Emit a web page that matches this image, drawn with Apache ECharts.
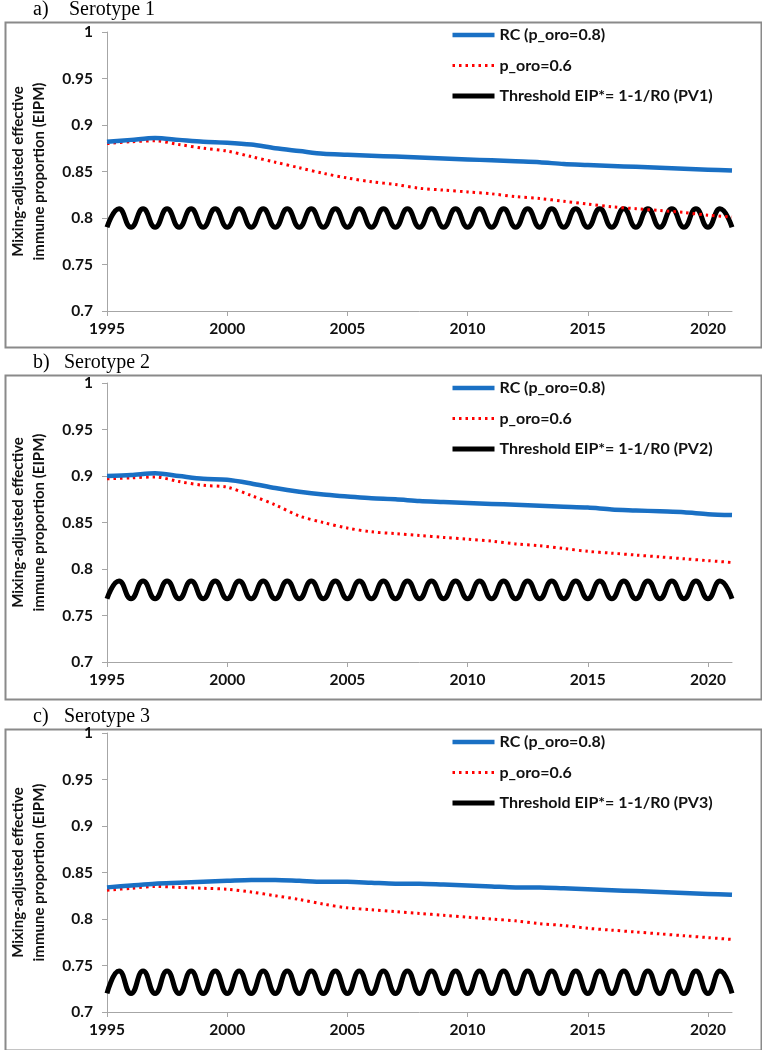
<!DOCTYPE html>
<html><head><meta charset="utf-8">
<script src="https://cdn.jsdelivr.net/npm/echarts@6/dist/echarts.min.js"></script>
<style>html,body{margin:0;padding:0;background:#fff}#c{width:762px;height:1050px}</style>
</head><body><div id="c"></div>
<script>
// ---- data ----
const years = [1995,1996,1997,1998,1999,2000,2001,2002,2003,2004,2005,2006,2007,2008,2009,2010,2011,2012,2013,2014,2015,2016,2017,2018,2019,2020,2021];
const halfYears = [1995,1995.5,1996,1996.5,1997,1997.5,1998,1998.5,1999,1999.5,2000,2000.5,2001,2001.5,2002,2002.5,2003,2003.5,2004,2004.5,2005,2005.5,2006,2006.5,2007,2007.5,2008,2008.5,2009,2009.5,2010,2010.5,2011,2011.5,2012,2012.5,2013,2013.5,2014,2014.5,2015,2015.5,2016,2016.5,2017,2017.5,2018,2018.5,2019,2019.5,2020,2020.5,2021];
const xTickLabels = [1995,2000,2005,2010,2015,2020];
const panelTitles = ['a)','b)','c)'];
const panelNames = ['Serotype 1','Serotype 2','Serotype 3'];
const rcName = 'RC (p_oro=0.8)';
const poName = 'p_oro=0.6';
const thrNames = ['Threshold EIP*= 1-1/R0 (PV1)','Threshold EIP*= 1-1/R0 (PV2)','Threshold EIP*= 1-1/R0 (PV3)'];
const yAxisName = 'Mixing-adjusted effective\nimmune proportion (EIPM)';

const rcA = [0.882,0.884,0.886,0.884,0.882,0.881,0.879,0.875,0.872,0.869,0.868,0.867,0.866,0.865,0.864,0.863,0.862,0.861,0.860,0.858,0.857,0.856,0.855,0.854,0.853,0.852,0.851];
const poA = [0.880,0.882,0.883,0.879,0.875,0.872,0.866,0.860,0.854,0.848,0.843,0.839,0.836,0.832,0.830,0.828,0.826,0.823,0.821,0.818,0.815,0.812,0.810,0.808,0.806,0.803,0.801];
const thrA = [0.79,0.81,0.79,0.81,0.79,0.81,0.79,0.81,0.79,0.81,0.79,0.81,0.79,0.81,0.79,0.81,0.79,0.81,0.79,0.81,0.79,0.81,0.79,0.81,0.79,0.81,0.79,0.81,0.79,0.81,0.79,0.81,0.79,0.81,0.79,0.81,0.79,0.81,0.79,0.81,0.79,0.81,0.79,0.81,0.79,0.81,0.79,0.81,0.79,0.81,0.79,0.81,0.79];

const rcB = [0.900,0.901,0.903,0.900,0.897,0.896,0.892,0.887,0.883,0.880,0.878,0.876,0.875,0.873,0.872,0.871,0.870,0.869,0.868,0.867,0.866,0.864,0.863,0.862,0.861,0.859,0.858];
const poB = [0.897,0.898,0.899,0.894,0.890,0.888,0.879,0.869,0.857,0.850,0.844,0.840,0.838,0.836,0.834,0.832,0.830,0.827,0.825,0.822,0.819,0.817,0.815,0.813,0.811,0.809,0.807];
const thrB = [0.768,0.787,0.768,0.787,0.768,0.787,0.768,0.787,0.768,0.787,0.768,0.787,0.768,0.787,0.768,0.787,0.768,0.787,0.768,0.787,0.768,0.787,0.768,0.787,0.768,0.787,0.768,0.787,0.768,0.787,0.768,0.787,0.768,0.787,0.768,0.787,0.768,0.787,0.768,0.787,0.768,0.787,0.768,0.787,0.768,0.787,0.768,0.787,0.768,0.787,0.768,0.787,0.768];

const rcC = [0.834,0.836,0.838,0.839,0.840,0.841,0.842,0.842,0.841,0.840,0.840,0.839,0.838,0.838,0.837,0.836,0.835,0.834,0.834,0.833,0.832,0.831,0.830,0.829,0.828,0.827,0.826];
const poC = [0.831,0.833,0.835,0.834,0.833,0.832,0.829,0.825,0.821,0.816,0.812,0.810,0.808,0.806,0.804,0.802,0.800,0.798,0.795,0.793,0.790,0.788,0.786,0.784,0.782,0.780,0.778];
const thrC = [0.720,0.744,0.720,0.744,0.720,0.744,0.720,0.744,0.720,0.744,0.720,0.744,0.720,0.744,0.720,0.744,0.720,0.744,0.720,0.744,0.720,0.744,0.720,0.744,0.720,0.744,0.720,0.744,0.720,0.744,0.720,0.744,0.720,0.744,0.720,0.744,0.720,0.744,0.720,0.744,0.720,0.744,0.720,0.744,0.720,0.744,0.720,0.744,0.720,0.744,0.720,0.744,0.720];

const rcAll = [rcA, rcB, rcC];
const poAll = [poA, poB, poC];
const thrAll = [thrA, thrB, thrC];

// ---- layout ----
const boxTops = [20, 373, 727];
const boxH = [325, 324, 321];
const gridTops = [32, 383, 733];
const gridH = 279;
const FONT = 'Lato, "Liberation Sans", sans-serif';
const BLUE = '#1a70c4';
const RED = '#ff0000';

const pair = (xs, ys) => xs.map((x, i) => [x, ys[i]]);

const grids = [], xAxes = [], yAxes = [], series = [], legends = [], graphics = [];
for (let p = 0; p < 3; p++) {
  grids.push({left: 106, width: 626, top: gridTops[p], height: gridH});
  xAxes.push({
    type: 'value', gridIndex: p, min: 1995, max: 2021, interval: 5,
    axisLine: {show: true, lineStyle: {color: '#a6a6a6', width: 1}},
    axisTick: {show: true, length: 5, lineStyle: {color: '#a6a6a6'}, customValues: xTickLabels},
    axisLabel: {show: true, margin: 10, customValues: xTickLabels, formatter: v => String(v),
      color: '#111', fontFamily: FONT, fontWeight: 'bold', fontSize: 15.5},
    splitLine: {show: false}
  });
  yAxes.push({
    type: 'value', gridIndex: p, min: 0.7, max: 1, interval: 0.05,
    name: yAxisName, nameLocation: 'middle', nameRotate: 90, nameGap: 57,
    nameTextStyle: {color: '#111', fontFamily: FONT, fontWeight: 'bold', fontSize: 15, lineHeight: 21},
    axisLine: {show: true, lineStyle: {color: '#a6a6a6', width: 1}},
    axisTick: {show: true, length: 5, lineStyle: {color: '#a6a6a6'}},
    axisLabel: {margin: 14, color: '#111', fontFamily: FONT, fontWeight: 'bold', fontSize: 15.5},
    splitLine: {show: false}
  });
  series.push({
    name: thrNames[p], type: 'line', xAxisIndex: p, yAxisIndex: p, data: pair(halfYears, thrAll[p]),
    smooth: 0.5, symbol: 'none', lineStyle: {color: '#000', width: 5}, itemStyle: {color: '#000'}, z: 2
  });
  series.push({
    name: poName, type: 'line', xAxisIndex: p, yAxisIndex: p, data: pair(years, poAll[p]),
    smooth: 0.3, symbol: 'none', lineStyle: {color: RED, width: 3, type: [2.5, 4]}, itemStyle: {color: RED}, z: 3
  });
  series.push({
    name: rcName, type: 'line', xAxisIndex: p, yAxisIndex: p, data: pair(years, rcAll[p]),
    smooth: 0.3, symbol: 'none', lineStyle: {color: BLUE, width: 4.5}, itemStyle: {color: BLUE}, z: 4
  });
  legends.push({
    orient: 'vertical', left: 450, top: boxTops[p] + 7, padding: 0,
    itemWidth: 42, itemHeight: 14, itemGap: 14.5,
    selectedMode: false,
    itemStyle: {opacity: 0},
    lineStyle: {width: 'inherit'},
    data: [rcName, poName, thrNames[p]],
    textStyle: {color: '#111', fontFamily: FONT, fontWeight: 'bold', fontSize: 16}
  });
  graphics.push({
    type: 'rect', left: 3, top: boxTops[p], shape: {width: 756, height: boxH[p]},
    style: {fill: 'none', stroke: '#8a8a8a', lineWidth: 2}, silent: true
  });
  graphics.push({
    type: 'text', left: 33, top: boxTops[p] - 20,
    style: {text: panelTitles[p], font: '20px "Liberation Serif", "Times New Roman", serif', fill: '#000'}
  });
  graphics.push({
    type: 'text', left: p === 0 ? 69 : 64, top: boxTops[p] - 20,
    style: {text: panelNames[p], font: '20px "Liberation Serif", "Times New Roman", serif', fill: '#000'}
  });
}

const chart = echarts.init(document.getElementById('c'), null, {renderer: 'canvas'});
chart.setOption({
  backgroundColor: '#fff',
  animation: false,
  grid: grids, xAxis: xAxes, yAxis: yAxes, series: series, legend: legends,
  graphic: graphics
});
</script></body></html>
